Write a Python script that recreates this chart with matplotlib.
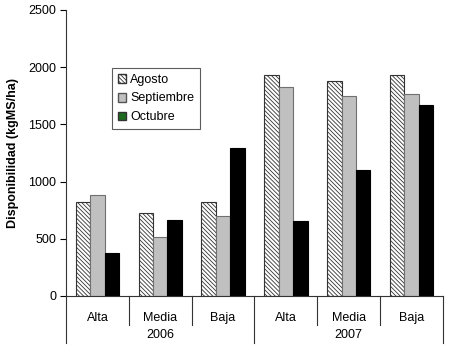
import matplotlib
matplotlib.use("Agg")
import matplotlib.pyplot as plt
import matplotlib.transforms as mtransforms
from matplotlib.patches import Patch
import numpy as np

plt.rcParams['font.family'] = ['Liberation Sans', 'DejaVu Sans']
plt.rcParams['hatch.linewidth'] = 0.6

categories = ["Alta", "Media", "Baja", "Alta", "Media", "Baja"]
years = ["2006", "2007"]
agosto = [822, 725, 822, 1932, 1879, 1932]
septiembre = [883, 516, 700, 1827, 1748, 1766]
octubre = [376, 664, 1294, 656, 1101, 1670]
yticks = [0, 500, 1000, 1500, 2000, 2500]

fig = plt.figure(figsize=(4.5, 3.52), dpi=100)
ax = fig.add_axes([66/450, 1-296/352, (443-66)/450, (296-10)/352])

x = np.arange(len(categories))
w = 0.23
hatch = '\\' * 8
ax.bar(x - w, agosto, w, color='white', edgecolor='#333333', hatch=hatch, linewidth=0.8)
ax.bar(x, septiembre, w, color='#c0c0c0', edgecolor='#707070', linewidth=0.8)
ax.bar(x + w, octubre, w, color='black', edgecolor='black', linewidth=0.8)

fs = 9
ax.set_xlim(-0.5, len(categories) - 0.5)
ax.set_ylim(0, 2500)
ax.set_yticks(yticks)
ax.tick_params(axis='y', direction='out', length=4, labelsize=fs, width=0.8, pad=3)
ax.set_xticks([])
for s in ['top', 'right']:
    ax.spines[s].set_visible(False)
ax.spines['left'].set_color('#333333')
ax.spines['bottom'].set_color('#333333')

trans = mtransforms.blended_transform_factory(ax.transData, ax.transAxes)
axis_px = 286.0
for i in range(len(categories) + 1):
    xb = i - 0.5
    if i % 3 == 0:
        y1 = -(343 - 296) / axis_px
    else:
        y1 = -(325 - 296) / axis_px
    ax.plot([xb, xb], [0, y1], color='#333333', lw=0.8, transform=trans, clip_on=False)
for i, c in enumerate(categories):
    ax.text(i, -(318 - 296) / axis_px, c, transform=trans, ha='center', va='center', fontsize=fs)
for j, yr in enumerate(years):
    ax.text(j * 3 + 1, -(335 - 296) / axis_px, yr, transform=trans, ha='center', va='center', fontsize=fs)

ax.set_ylabel("Disponibilidad (kgMS/ha)", fontsize=fs, fontweight='bold', labelpad=7)

handles = [
    Patch(facecolor='white', edgecolor='#333333', hatch=hatch, label='Agosto'),
    Patch(facecolor='#c0c0c0', edgecolor='#555555', label='Septiembre'),
    Patch(facecolor='#1e6a1e', edgecolor='#333333', label='Octubre'),
]
leg = ax.legend(handles=handles, loc='upper left', bbox_to_anchor=((112 - 66) / 377, (296 - 68) / axis_px),
                borderaxespad=0, fontsize=fs, frameon=True, fancybox=False,
                handlelength=0.7, handleheight=0.7, handletextpad=0.3, labelspacing=0.55,
                borderpad=0.45)
leg.get_frame().set_edgecolor('#333333')
leg.get_frame().set_linewidth(0.8)

fig.savefig("out.png", dpi=100)
